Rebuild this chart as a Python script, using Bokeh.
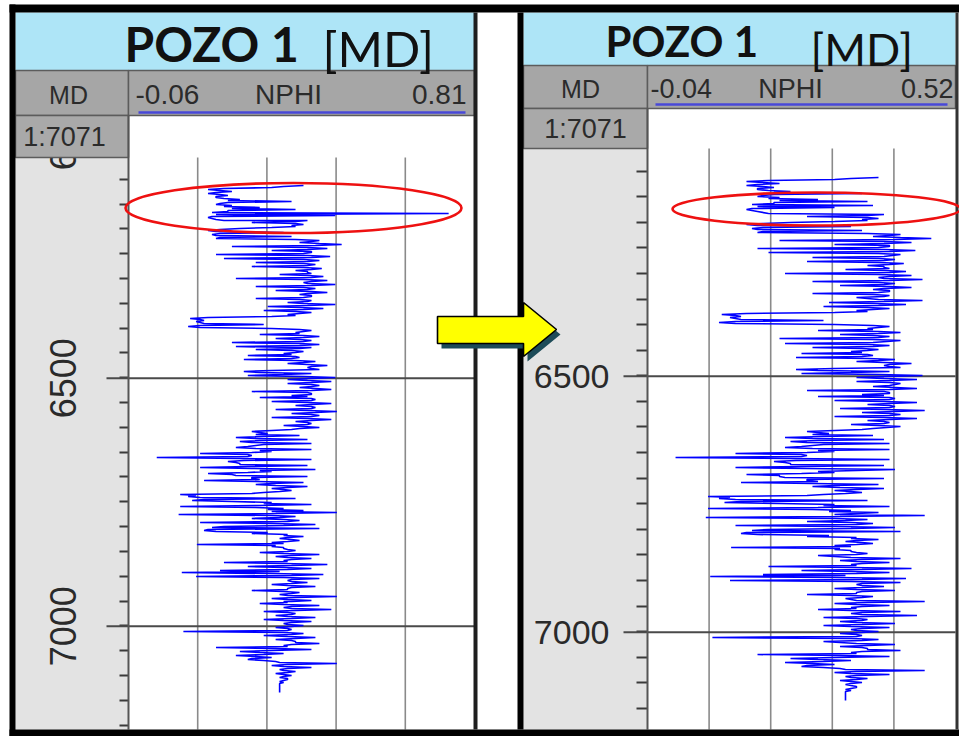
import math
import numpy as np
from bokeh.plotting import figure
from bokeh.models import Range1d
from bokeh.core.properties import value
from bokeh.embed import file_html
from bokeh.resources import INLINE

# ---------------------------------------------------------------------------
# NPHI log of POZO 1, one sample every 2 ft of measured depth from 6112 ft
# ---------------------------------------------------------------------------
DEPTH_START = 6112
DEPTH_STEP = 2
NPHI_RAW = [
    0.38, 0.33, 0.30, 0.18, 0.14, 0.17, 0.20, 0.16, 0.14, 0.17, 0.19, 0.16, 0.16, 0.18, 0.22, 0.19,      # 6112
    0.35, 0.19, 0.17, 0.16, 0.20, 0.18, 0.27, 0.20, 0.36, 0.19, 0.19, 0.15, 0.745, 0.16, 0.46, 0.15,     # 6144
    0.14, 0.15, 0.16, 0.18, 0.39, 0.36, 0.25, 0.36, 0.38, 0.35, 0.36, 0.30, 0.22, 0.17, 0.14, 0.16,      # 6176
    0.33, 0.17, 0.15, 0.16, 0.35, 0.17, 0.16, 0.36, 0.42, 0.40, 0.37, 0.42, 0.476, 0.41, 0.20, 0.39,     # 6208
    0.44, 0.39, 0.30, 0.40, 0.40, 0.38, 0.16, 0.39, 0.447, 0.40, 0.18, 0.38, 0.42, 0.39, 0.26, 0.38,     # 6240
    0.41, 0.39, 0.25, 0.38, 0.426, 0.40, 0.36, 0.39, 0.39, 0.40, 0.32, 0.39, 0.43, 0.40, 0.21, 0.38,     # 6272
    0.44, 0.40, 0.38, 0.39, 0.46, 0.40, 0.26, 0.38, 0.41, 0.39, 0.31, 0.40, 0.44, 0.39, 0.37, 0.40,      # 6304
    0.40, 0.38, 0.26, 0.37, 0.40, 0.39, 0.34, 0.38, 0.46, 0.39, 0.29, 0.37, 0.43, 0.38, 0.28, 0.36,      # 6336
    0.40, 0.37, 0.34, 0.36, 0.30, 0.14, 0.095, 0.12, 0.13, 0.11, 0.12, 0.13, 0.28, 0.12, 0.09, 0.12,     # 6368
    0.30, 0.37, 0.40, 0.38, 0.36, 0.37, 0.27, 0.38, 0.42, 0.38, 0.31, 0.37, 0.40, 0.38, 0.20, 0.37,      # 6400
    0.42, 0.37, 0.21, 0.36, 0.40, 0.37, 0.26, 0.35, 0.38, 0.36, 0.33, 0.35, 0.24, 0.36, 0.37, 0.35,      # 6432
    0.23, 0.36, 0.41, 0.38, 0.34, 0.39, 0.44, 0.40, 0.39, 0.40, 0.42, 0.30, 0.23, 0.27, 0.40, 0.33,      # 6464
    0.24, 0.38, 0.46, 0.40, 0.34, 0.39, 0.45, 0.40, 0.34, 0.40, 0.42, 0.40, 0.37, 0.41, 0.45, 0.40,      # 6496
    0.25, 0.39, 0.40, 0.40, 0.35, 0.39, 0.27, 0.40, 0.41, 0.40, 0.30, 0.39, 0.45, 0.40, 0.36, 0.40,      # 6528
    0.41, 0.40, 0.31, 0.39, 0.464, 0.41, 0.35, 0.40, 0.42, 0.40, 0.30, 0.39, 0.45, 0.40, 0.36, 0.39,     # 6560
    0.40, 0.39, 0.33, 0.38, 0.42, 0.37, 0.35, 0.30, 0.25, 0.27, 0.29, 0.26, 0.37, 0.28, 0.21, 0.26,      # 6592
    0.39, 0.27, 0.22, 0.25, 0.40, 0.28, 0.26, 0.24, 0.21, 0.26, 0.40, 0.27, 0.30, 0.25, 0.12, 0.24,      # 6624
    0.25, 0.24, 0.011, 0.22, 0.40, 0.23, 0.19, 0.21, 0.22, 0.22, 0.39, 0.24, 0.12, 0.25, 0.41, 0.27,     # 6656
    0.30, 0.24, 0.14, 0.20, 0.20, 0.21, 0.39, 0.25, 0.25, 0.27, 0.13, 0.26, 0.38, 0.30, 0.26, 0.31,      # 6688
    0.39, 0.34, 0.30, 0.33, 0.35, 0.32, 0.28, 0.25, 0.07, 0.11, 0.09, 0.12, 0.36, 0.13, 0.10, 0.20,      # 6720
    0.30, 0.28, 0.40, 0.27, 0.07, 0.26, 0.33, 0.29, 0.38, 0.30, 0.464, 0.31, 0.066, 0.30, 0.36, 0.32,    # 6752
    0.25, 0.33, 0.37, 0.34, 0.12, 0.30, 0.41, 0.33, 0.18, 0.15, 0.42, 0.14, 0.13, 0.16, 0.29, 0.25,      # 6784
    0.34, 0.33, 0.38, 0.34, 0.32, 0.35, 0.37, 0.34, 0.30, 0.33, 0.112, 0.31, 0.30, 0.33, 0.33, 0.34,     # 6816
    0.36, 0.34, 0.27, 0.33, 0.42, 0.35, 0.31, 0.34, 0.40, 0.35, 0.33, 0.34, 0.18, 0.33, 0.44, 0.35,      # 6848
    0.24, 0.33, 0.40, 0.34, 0.17, 0.32, 0.074, 0.30, 0.43, 0.35, 0.11, 0.33, 0.42, 0.35, 0.34, 0.35,     # 6880
    0.39, 0.35, 0.30, 0.34, 0.41, 0.35, 0.34, 0.34, 0.25, 0.33, 0.37, 0.35, 0.32, 0.34, 0.464, 0.36,     # 6912
    0.30, 0.34, 0.40, 0.35, 0.33, 0.34, 0.27, 0.33, 0.42, 0.35, 0.33, 0.35, 0.45, 0.36, 0.28, 0.34,      # 6944
    0.36, 0.35, 0.31, 0.34, 0.41, 0.35, 0.28, 0.33, 0.40, 0.35, 0.33, 0.34, 0.38, 0.35, 0.31, 0.34,      # 6976
    0.35, 0.34, 0.078, 0.33, 0.38, 0.35, 0.28, 0.34, 0.41, 0.36, 0.31, 0.35, 0.36, 0.36, 0.42, 0.35,     # 7008
    0.33, 0.34, 0.16, 0.31, 0.40, 0.30, 0.22, 0.27, 0.33, 0.28, 0.21, 0.26, 0.30, 0.25, 0.24, 0.28,      # 7040
    0.31, 0.32, 0.464, 0.34, 0.30, 0.33, 0.40, 0.34, 0.32, 0.33, 0.36, 0.34, 0.31, 0.33, 0.35, 0.33,     # 7072
    0.32, 0.34, 0.34, 0.33, 0.32, 0.33, 0.32, 0.32, 0.32, 0.32, 0.32, 0.32, 0.32, 0.32, 0.32, 0.32,      # 7104
]
# spurious readings replaced in the edited curve (depth ft -> NPHI)
NPHI_EDITS = {6168: 0.37, 6172: 0.30}

# scale of each track and depth-axis labels
NPHI_SCALE_RAW = (-0.06, 0.81)
NPHI_SCALE_EDITED = (-0.04, 0.52)
DEPTH_LABELS = [6000, 6500, 7000]
DEPTH_TICK_STEP = 50
WELL = "POZO 1"
INDEX = "[MD]"
SCALE_TEXT = "1:7071"

depth = DEPTH_START + DEPTH_STEP * np.arange(len(NPHI_RAW))
nphi_raw = np.array(NPHI_RAW, dtype=float)
nphi_edit = nphi_raw.copy()
for d, v in NPHI_EDITS.items():
    nphi_edit[depth == d] = v

# ---------------------------------------------------------------------------
# page canvas (pixel-like frame, y grows downward)
# ---------------------------------------------------------------------------
W, H = 959, 736
p = figure(width=W, height=H, x_range=Range1d(0, W), y_range=Range1d(H, 0),
           output_backend="svg", toolbar_location=None, min_border=0,
           x_axis_location=None, y_axis_location=None,
           background_fill_color="white", border_fill_color="white")
p.grid.visible = False
p.outline_line_color = None

SANS = value("Liberation Sans")
HEAD = value("Lato")
BLUE_HEAD = "#aee5f7"
GRAY_HEAD = "#a6a6a6"
GRAY_CELL = "#a9a9a9"
GRAY_DEPTH = "#e3e3e3"
CELL_EDGE = "#5c5c5c"

PANELS = [
    dict(nphi=nphi_raw, scale=NPHI_SCALE_RAW, lo_txt="-0.06", hi_txt="0.81",
         x0=15, x1=474, xd=128, head_top=12, head_bot=70, row_bot=115, cell_bot=157,
         bottom=729, dwin=(6055, 7208),
         pozo=(124, 43, "48px"), idx=(322, 47, "49px"),
         md=(68, 94), hrow_y=94, lo_x=135, nphi_x=288, hi_x=466, hsize="28px",
         uline=(112, 138, 465), cell_txt=(64, 136),
         tick_x0=119, major_x0=106, lab_x=62, lab_rot=True, lab_size="36px"),
    dict(nphi=nphi_edit, scale=NPHI_SCALE_EDITED, lo_txt="-0.04", hi_txt="0.52",
         x0=523, x1=955, xd=647, head_top=12, head_bot=65, row_bot=108, cell_bot=148,
         bottom=729, dwin=(6055, 7190),
         pozo=(605, 40, "42px"), idx=(810, 48, "45px"),
         md=(580, 88), hrow_y=88, lo_x=650, nphi_x=790, hi_x=953, hsize="27px",
         uline=(104, 655, 947), cell_txt=(585, 128),
         tick_x0=636, major_x0=623, lab_x=609, lab_rot=False, lab_size="34px"),
]


def draw_panel(g):
    x0, x1, xd = g["x0"], g["x1"], g["xd"]
    d_top, d_bot = g["dwin"]
    y_top, y_bot = g["cell_bot"], g["bottom"]

    # track backgrounds
    p.quad(left=[x0], right=[xd], top=[g["cell_bot"]], bottom=[y_bot],
           fill_color=GRAY_DEPTH, line_color=None)
    p.quad(left=[xd], right=[x1], top=[g["row_bot"]], bottom=[y_bot],
           fill_color="white", line_color=None)

    # depth axis (x in canvas units) and NPHI track sharing the depth scale
    dsub = p.subplot(x_source=Range1d(0, W), y_source=Range1d(d_top, d_bot),
                     x_target=Range1d(0, W), y_target=Range1d(y_top, y_bot))
    lo, hi = g["scale"]
    csub = p.subplot(x_source=Range1d(lo, hi), y_source=Range1d(d_top, d_bot),
                     x_target=Range1d(xd, x1), y_target=Range1d(y_top, y_bot))

    # vertical grid: track divided in five equal parts
    gv = np.linspace(lo, hi, 6)[1:-1]
    csub.segment(x0=gv, y0=[d_top] * 4, x1=gv, y1=[d_bot] * 4,
                 line_color="#8a8a8a", line_width=1.6)

    # depth ticks, major depth lines and labels
    ticks = np.arange(6100, d_bot, DEPTH_TICK_STEP)
    dsub.segment(x0=[g["tick_x0"]] * len(ticks), y0=ticks, x1=[xd] * len(ticks), y1=ticks,
                 line_color="#3a3a3a", line_width=2)
    majors = [d for d in DEPTH_LABELS if d_top < d < d_bot]
    dsub.segment(x0=[g["major_x0"]] * len(majors), y0=majors,
                 x1=[x1] * len(majors), y1=majors, line_color="#4a4a4a", line_width=2)
    if g["lab_rot"]:
        dsub.text(x=[g["lab_x"]] * len(DEPTH_LABELS), y=DEPTH_LABELS,
                  text=[str(d) for d in DEPTH_LABELS], angle=math.pi / 2,
                  text_align="center", text_baseline="middle", text_font=SANS,
                  text_font_size=g["lab_size"], text_color="#2a2a2a")
    else:
        dsub.text(x=[g["lab_x"]] * len(DEPTH_LABELS), y=DEPTH_LABELS,
                  text=[str(d) for d in DEPTH_LABELS],
                  text_align="right", text_baseline="middle", text_font=SANS,
                  text_font_size=g["lab_size"], text_color="#2a2a2a")

    # the log curve
    csub.line(x=g["nphi"], y=depth, line_color="#0000ff", line_width=1.6)

    # header: title band, curve row, scale cell
    p.quad(left=[x0], right=[x1], top=[g["head_top"]], bottom=[g["head_bot"]],
           fill_color=BLUE_HEAD, line_color=None)
    p.quad(left=[x0, xd], right=[xd, x1], top=[g["head_bot"]] * 2,
           bottom=[g["row_bot"]] * 2, fill_color=GRAY_HEAD,
           line_color=CELL_EDGE, line_width=1.5)
    p.quad(left=[x0], right=[xd], top=[g["row_bot"]], bottom=[g["cell_bot"]],
           fill_color=GRAY_CELL, line_color=CELL_EDGE, line_width=1.5)
    # separator between depth column and track
    p.segment(x0=[xd], y0=[g["row_bot"]], x1=[xd], y1=[y_bot],
              line_color="#555555", line_width=2)

    px, py, ps = g["pozo"]
    p.text(x=[px], y=[py], text=[WELL], text_font=HEAD, text_font_style="bold",
           text_font_size=ps, text_color="#111111", text_baseline="middle")
    ix, iy, isz = g["idx"]
    p.text(x=[ix], y=[iy], text=[INDEX], text_font=HEAD, text_font_size=isz,
           text_color="#111111", text_baseline="middle")

    mx, my = g["md"]
    p.text(x=[mx], y=[my], text=["MD"], text_font=SANS, text_font_size="25px",
           text_align="center", text_baseline="middle", text_color="#2b2b2b")
    hy = g["hrow_y"]
    p.text(x=[g["lo_x"]], y=[hy], text=[g["lo_txt"]], text_font=SANS,
           text_font_size=g["hsize"], text_align="left", text_baseline="middle",
           text_color="#2b2b2b")
    p.text(x=[g["nphi_x"]], y=[hy], text=["NPHI"], text_font=SANS,
           text_font_size=g["hsize"], text_align="center", text_baseline="middle",
           text_color="#2b2b2b")
    p.text(x=[g["hi_x"]], y=[hy], text=[g["hi_txt"]], text_font=SANS,
           text_font_size=g["hsize"], text_align="right", text_baseline="middle",
           text_color="#2b2b2b")
    uy, ux0, ux1 = g["uline"]
    p.segment(x0=[ux0], y0=[uy], x1=[ux1], y1=[uy], line_color="#4848d8", line_width=2.5)
    cx, cy = g["cell_txt"]
    p.text(x=[cx], y=[cy], text=[SCALE_TEXT], text_font=SANS, text_font_size="27px",
           text_align="center", text_baseline="middle", text_color="#2b2b2b")


for g in PANELS:
    draw_panel(g)

# frame lines around the two panels
p.quad(left=[9, 9, 9, 473, 517, 955], right=[959, 959, 15, 477, 523, 958],
       top=[4, 729, 4, 12, 12, 12], bottom=[12, 736, 736, 729, 729, 729],
       fill_color=["black", "black", "black", "#1e1e1e", "black", "#333333"],
       line_color=None)

# highlighted interval on each track
p.ellipse(x=[293, 816], y=[207.5, 208.5], width=[336, 288], height=[50, 33],
          fill_color=None, line_color="#ee1111", line_width=2.6)

# arrow between the tracks
ARROW_X = np.array([437, 523, 523, 556, 523, 523, 437])
ARROW_Y = np.array([316, 316, 302, 329, 356, 343, 343])
p.patch(ARROW_X + 4, ARROW_Y + 5, fill_color="#1d4b58", line_color=None)
p.patch(ARROW_X, ARROW_Y, fill_color="#ffff00", line_color="black", line_width=1.6)

open("out.html", "w").write(file_html(p, INLINE))
